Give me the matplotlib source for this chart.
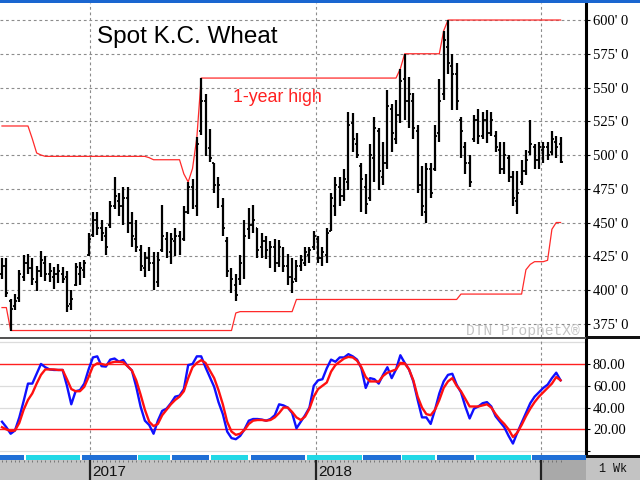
import numpy as np
import pandas as pd
import matplotlib
matplotlib.use("Agg")
import matplotlib.pyplot as plt
from matplotlib.patches import Rectangle

# ── Weekly bars (Spot K.C. Wheat, cents/bu) ────────────────────────────────────
opens = [412, 418, 392, 388, 394, 410, 420, 416, 406, 414,
         420, 412, 410, 412, 412, 410, 390, 404, 412, 415,
         426, 441, 452, 446, 440, 448, 462, 466, 462, 468,
         450, 438, 430, 416, 424, 420, 406, 430, 438, 428,
         436, 440, 438, 458, 476, 462, 518, 540, 505, 494,
         474, 462, 436, 414, 404, 408, 410, 445, 448, 446,
         432, 436, 428, 432, 420, 428, 418, 410, 408, 418,
         420, 426, 432, 438, 424, 426, 444, 462, 476, 470,
         480, 524, 508, 492, 476, 468, 498, 518, 484, 494,
         534, 512, 530, 556, 540, 540, 518, 478, 458, 490,
         490, 516, 545, 580, 566, 560, 526, 506, 494, 512,
         526, 514, 526, 516, 514, 504, 490, 498, 484, 466,
         480, 488, 502, 506, 496, 504, 506, 502, 510, 508]
highs = [424, 424, 393, 397, 415, 426, 427, 424, 418, 429,
         425, 420, 417, 419, 417, 414, 400, 420, 421, 422,
         442, 458, 458, 452, 447, 466, 484, 472, 476, 476,
         458, 452, 433, 428, 432, 428, 428, 463, 443, 442,
         446, 444, 462, 480, 482, 513, 557, 545, 519, 494,
         484, 468, 439, 416, 412, 426, 452, 461, 463, 446,
         442, 440, 436, 438, 437, 432, 427, 424, 422, 426,
         432, 432, 444, 440, 432, 446, 472, 484, 484, 490,
         532, 531, 516, 494, 486, 508, 528, 520, 510, 548,
         538, 541, 564, 575, 558, 546, 522, 492, 494, 494,
         522, 556, 592, 600, 575, 568, 528, 510, 500, 530,
         534, 532, 533, 532, 518, 510, 510, 500, 488, 488,
         496, 504, 526, 508, 510, 510, 510, 518, 514, 513]
lows = [408, 395, 370, 385, 391, 407, 412, 404, 399, 410,
        407, 406, 401, 405, 405, 384, 385, 403, 404, 409,
        425, 439, 441, 436, 426, 446, 460, 455, 448, 442,
        432, 428, 414, 410, 414, 400, 402, 428, 424, 419,
        425, 426, 436, 456, 460, 455, 515, 499, 495, 472,
        461, 440, 410, 398, 392, 404, 408, 438, 442, 424,
        424, 423, 416, 413, 417, 413, 404, 398, 406, 414,
        418, 420, 430, 420, 418, 420, 444, 455, 462, 466,
        474, 502, 498, 458, 456, 466, 480, 474, 478, 490,
        502, 508, 524, 526, 520, 512, 472, 455, 450, 468,
        488, 510, 541, 560, 533, 533, 498, 486, 476, 510,
        508, 512, 509, 514, 502, 486, 486, 480, 462, 456,
        478, 485, 500, 490, 490, 494, 496, 500, 498, 494]
closes = [418, 398, 386, 392, 412, 420, 416, 408, 414, 422,
          412, 414, 412, 414, 408, 388, 393, 417, 416, 420,
          438, 452, 446, 442, 432, 462, 470, 462, 468, 450,
          440, 432, 418, 424, 420, 408, 422, 440, 430, 438,
          440, 432, 458, 476, 464, 508, 540, 502, 498, 478,
          478, 446, 414, 408, 396, 420, 440, 448, 452, 430,
          436, 430, 432, 420, 432, 418, 410, 406, 418, 422,
          428, 430, 440, 424, 428, 442, 468, 478, 470, 482,
          522, 512, 500, 482, 464, 500, 520, 488, 494, 536,
          516, 530, 555, 540, 545, 520, 478, 462, 490, 472,
          514, 540, 585, 568, 560, 540, 518, 494, 480, 526,
          514, 526, 516, 526, 506, 490, 500, 484, 468, 472,
          488, 496, 508, 496, 506, 506, 500, 512, 506, 495]

# 1-year high / low envelopes
year_high = [521.5, 521.5, 521.5, 521.5, 521.5, 521.5, 521.5, 512, 501.5, 500,
             499, 499, 499, 499, 499, 499, 499, 499, 499, 499,
             499, 499, 499, 499, 499, 499, 499, 499, 499, 499,
             499, 499, 499, 499, 498, 496.5, 496.5, 496.5, 496.5, 496.5,
             496.5, 496.5, 486, 480, 490, 513, 557, 557, 557, 557,
             557, 557, 557, 557, 557, 557, 557, 557, 557, 557,
             557, 557, 557, 557, 557, 557, 557, 557, 557, 557,
             557, 557, 557, 557, 557, 557, 557, 557, 557, 557,
             557, 557, 557, 557, 557, 557, 557, 557, 557, 557,
             557, 557, 564, 575, 575, 575, 575, 575, 575, 575,
             575, 575, 592, 600, 600, 600, 600, 600, 600, 600,
             600, 600, 600, 600, 600, 600, 600, 600, 600, 600,
             600, 600, 600, 600, 600, 600, 600, 600, 600, 600]
year_low = [387, 387, 370, 370, 370, 370, 370, 370, 370, 370,
            370, 370, 370, 370, 370, 370, 370, 370, 370, 370,
            370, 370, 370, 370, 370, 370, 370, 370, 370, 370,
            370, 370, 370, 370, 370, 370, 370, 370, 370, 370,
            370, 370, 370, 370, 370, 370, 370, 370, 370, 370,
            370, 370, 370, 370, 383, 384, 384, 384, 384, 384,
            384, 384, 384, 384, 384, 384, 384, 384, 393, 393,
            393, 393, 393, 393, 393, 393, 393, 393, 393, 393,
            393, 393, 393, 393, 393, 393, 393, 393, 393, 393,
            393, 393, 393, 393, 393, 393, 393, 393, 393, 393,
            393, 393, 393, 393, 393, 393, 397, 397, 397, 397,
            397, 397, 397, 397, 397, 397, 397, 397, 397, 397,
            397, 415, 419, 421, 421, 421, 422, 445, 450, 450]

# Stochastics
stoch_k = [27, 22, 16, 19, 31, 46, 62, 62, 71, 80,
           77, 75, 74.5, 74.5, 74.5, 60, 43, 55, 56, 62,
           75, 86, 87, 78, 77.6, 84, 85, 82, 83.7, 78,
           74, 59, 41, 28, 24, 16, 28, 37, 39, 44,
           50, 51, 57, 79, 80, 87, 87, 77, 68, 59,
           45, 34, 18, 12, 11, 14, 20, 28, 29.5, 29.5,
           29, 28, 29.5, 33, 43, 42, 40, 35, 21, 27,
           33, 40, 60, 65, 66, 76, 84, 82, 86, 86,
           89, 87, 84, 76, 58, 67, 66, 62, 70, 77,
           67, 75, 88, 81, 75, 64, 47, 31, 31, 25,
           38, 53, 64, 70, 71, 61, 54, 41, 30, 39,
           41, 44, 45, 41, 32, 27, 22, 14, 7, 17,
           26, 35, 44, 50, 54, 58, 61, 67, 72, 65]
stoch_d = [22, 20, 18.5, 19, 26, 38, 47, 53, 62, 70,
           75, 75, 75, 74.5, 74.5, 66, 57, 55, 55, 59,
           68, 78, 80.6, 80, 79, 81, 82, 82, 81.5, 78,
           74, 65, 52, 38, 27, 23, 25, 33, 38, 43,
           47, 50, 55, 67, 77, 81, 83.5, 81, 74, 67,
           56, 43, 27, 18, 15, 16, 19.5, 25, 28, 28.6,
           28.6, 28, 28.6, 31, 35, 40, 40, 36, 31, 28.6,
           31.7, 39, 50, 57, 60, 63, 73, 79, 82, 85,
           86.5, 86, 83, 77, 68, 64, 64, 63.8, 69, 72,
           73.5, 75, 81, 80.6, 75, 65, 50, 40, 34, 33,
           38, 47, 58, 64, 67, 60, 55, 48, 41, 41,
           41, 42, 43, 40, 34, 29, 25, 20, 13, 17,
           24, 32, 39, 45, 50, 54, 58, 62, 68, 65]

price_ticks = [375, 400, 425, 450, 475, 500, 525, 550, 575, 600]
stoch_ticks = [20, 40, 60, 80]
year_labels = ["2017", "2018"]

dates = pd.date_range("2016-08-12", periods=len(closes), freq="W-FRI")
x = np.arange(len(closes))


def date_to_x(d):
    return (pd.Timestamp(d) - dates[0]).days / 7.0


year_x = [date_to_x("2017-01-01"), date_to_x("2018-01-01"), date_to_x("2019-01-01")]

# ── Layout helpers (pixel based, 640x480) ──────────────────────────────────────
W, H = 640, 480
PX = 4.33            # px per bar
XL = (-2 / PX, (586 - 2) / PX)


def rect(x0, y0, x1, y1):
    return [x0 / W, 1 - y1 / H, (x1 - x0) / W, (y1 - y0) / H]


SERIF = "Liberation Serif"
SANS = "Liberation Sans"
GRID = dict(color="#8c8c8c", lw=0.8, ls=(0, (2.5, 2.5)))

fig = plt.figure(figsize=(6.4, 4.8), dpi=100)
fig.patch.set_facecolor("white")

# ── Price panel ────────────────────────────────────────────────────────────────
ax = fig.add_axes(rect(0, 3, 586, 337))
ax.set_xlim(*XL)
ax.set_ylim(365.2, 612.6)
for p in price_ticks:
    ax.axhline(p, **GRID, zorder=1)
for yx in year_x:
    ax.axvline(yx, **GRID, zorder=1)

ax.plot(x, year_high, color="#ff2a2a", lw=0.9, zorder=2)
ax.plot(x, year_low, color="#ff2a2a", lw=0.9, zorder=2)

ax.vlines(x, lows, highs, color="black", lw=1.6, zorder=3)
ax.hlines(opens, x - 0.45, x, color="black", lw=1.3, zorder=3)
ax.hlines(closes, x, x + 0.45, color="black", lw=1.3, zorder=3)

ax.text(22.0, 587.5, "Spot K.C. Wheat", fontsize=17.5, family=SANS,
        color="black", va="center", ha="left")
ax.text(53.3, 542.5, "1-year high", fontsize=12.8, family=SANS,
        color="#ff2020", va="center", ha="left")
ax.text(133.5, 370, "DTN ProphetX\u00ae", fontsize=10.5, family="Liberation Mono",
        color="#c4c4c4", va="center", ha="right")

ax.yaxis.tick_right()
ax.set_yticks(price_ticks)
ax.set_yticklabels([f"{p}' 0" for p in price_ticks], family=SERIF, fontsize=10.5)
ax.tick_params(axis="y", length=3, width=0.8, pad=2)
ax.set_xticks([])
for side in ["top", "left", "bottom"]:
    ax.spines[side].set_visible(False)
ax.spines["right"].set_linewidth(2.2)

# ── Stochastic panel ───────────────────────────────────────────────────────────
ax2 = fig.add_axes(rect(0, 339, 586, 455))
ax2.set_xlim(*XL)
ax2.set_ylim(-3.5, 102.9)
for lv in [0, 40, 60, 100]:
    ax2.axhline(lv, color="#dcdcdc", lw=0.9, zorder=1)
for lv in [20, 80]:
    ax2.axhline(lv, color="#ff2020", lw=1.0, zorder=2)
for yx in year_x:
    ax2.axvline(yx, **GRID, zorder=1)
ax2.plot(x, stoch_k, color="#1010ff", lw=1.7, zorder=3)
ax2.plot(x, stoch_d, color="#ff1010", lw=1.7, zorder=4)
ax2.yaxis.tick_right()
ax2.set_yticks([0] + stoch_ticks)
ax2.set_yticklabels([""] + [f"{v:.2f}" for v in stoch_ticks], family=SERIF, fontsize=10.5)
ax2.tick_params(axis="y", length=3, width=0.8, pad=2)
ax2.set_xticks([])
for side in ["top", "left", "bottom"]:
    ax2.spines[side].set_visible(False)
ax2.spines["right"].set_linewidth(2.2)

# ── Period strip ───────────────────────────────────────────────────────────────
ax3 = fig.add_axes(rect(0, 455, 586, 460))
ax3.set_xlim(*XL)
ax3.set_ylim(0, 1)
ax3.axis("off")
strip_px = [(0, 24, "#1f6fd6"), (26, 80, "#22d8e6"), (82, 137, "#1f6fd6"),
            (138, 170, "#22d8e6"), (172, 209, "#1f6fd6"), (211, 248, "#22d8e6"),
            (251, 305, "#1f6fd6"), (307, 362, "#22d8e6"), (363, 401, "#1f6fd6"),
            (402, 435, "#22d8e6"), (437, 474, "#1f6fd6"), (476, 531, "#22d8e6"),
            (532, 586, "#1f6fd6")]
for a, b, c in strip_px:
    ax3.add_patch(Rectangle(((a - 2) / PX, 0), (b - a) / PX, 1, color=c, lw=0))

# ── Date label strip ───────────────────────────────────────────────────────────
ax4 = fig.add_axes(rect(0, 460, 586, 480))
ax4.set_xlim(*XL)
ax4.set_ylim(0, 1)
ax4.set_facecolor("#c3c3c3")
ax4.add_patch(Rectangle((year_x[2], 0), XL[1] - year_x[2], 1, color="#a9a9a9", lw=0))
ax4.vlines(x, 0.88, 1.0, color="#6a6a6a", lw=0.6)
for yx in year_x:
    ax4.axvline(yx, color="#222222", lw=1.6)
for yx, lab in zip(year_x[:2], year_labels):
    ax4.text(yx + 0.5, 0.38, lab, fontsize=11, family=SANS, color="#111111",
             va="center", ha="left")
ax4.set_xticks([])
ax4.set_yticks([])
for s in ax4.spines.values():
    s.set_visible(False)

# ── Right-hand corner boxes / frame lines ──────────────────────────────────────
fig.patches.append(Rectangle((0, 1 - 3 / H), 1, 3 / H, transform=fig.transFigure,
                             color="#1a66d0", lw=0))
fig.patches.append(Rectangle((586 / W, 1 - 339 / H), 54 / W, 3 / H,
                             transform=fig.transFigure, color="#111111", lw=0))
fig.patches.append(Rectangle((0, 1 - 339 / H), 586 / W, 2 / H,
                             transform=fig.transFigure, color="#555555", lw=0))
fig.patches.append(Rectangle((586 / W, 0), 54 / W, 25 / H, transform=fig.transFigure,
                             color="#c3c3c3", lw=0))
fig.patches.append(Rectangle((586 / W, 1 - 458 / H), 54 / W, 3 / H,
                             transform=fig.transFigure, color="#111111", lw=0))
fig.text(613 / W, 1 - 469 / H, "1 Wk", fontsize=8.5, family="Liberation Mono",
         color="#111111", ha="center", va="center")

fig.savefig("out.png", dpi=100)
